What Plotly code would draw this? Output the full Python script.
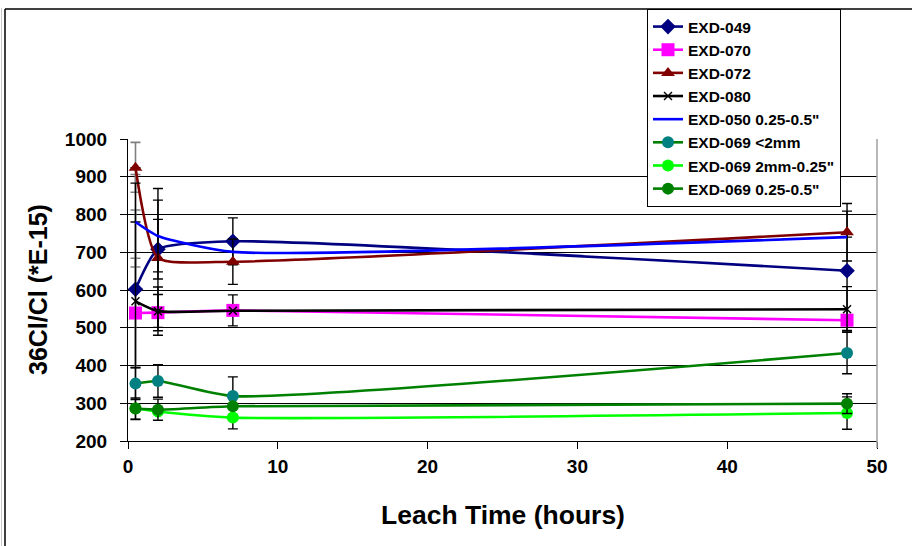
import plotly.graph_objects as go

hours = [0.5, 2, 7, 48]

exd049 = [602, 708, 729, 651]
exd070 = [539, 540, 546, 520]
exd072 = [924, 685, 675, 753]
exd080 = [570, 544, 545, 549]
exd050 = [780, 743, 701, 740]
exd069_lt2 = [352, 359, 319, 433]
exd069_2mm = [286, 278, 262, 274]
exd069_q = [286, 283, 292, 299]

# error bars (plus, minus); None = no bar
err049_p = [210, 79, 62, 158]
err049_m = [206, 79, 62, 158]
err070 = [145, 48, 41, None]
err072_p = [67, 184, 60, 76]
err072_m = [65, 184, 60, 76]
err080 = [313, 64, None, 60]
err050_p = [126, 95, None, None]
err050_m = [119, 95, None, None]
err069_lt2 = [42, 43, 51, 55]
err069_2mm = [None, None, 30, 43]
err069_q = [28, 28, None, 26]

names = ["EXD-049", "EXD-070", "EXD-072", "EXD-080", 'EXD-050 0.25-0.5"',
         "EXD-069 <2mm", 'EXD-069 2mm-0.25"', 'EXD-069 0.25-0.5"']

FONT = "Liberation Sans, Arial, sans-serif"
SMOOTH = 0.55

fig = go.Figure()

# grey error bars at the first time point (drawn beneath everything)
first_vals = [exd049[0], exd070[0], exd072[0], exd050[0]]
first_p = [err049_p[0], err070[0], err072_p[0], err050_p[0]]
first_m = [err049_m[0], err070[0], err072_m[0], err050_m[0]]
fig.add_trace(go.Scatter(
    x=[hours[0]] * len(first_vals), y=first_vals, mode="markers",
    marker=dict(size=1, opacity=0), showlegend=False, hoverinfo="skip",
    error_y=dict(type="data", array=first_p, arrayminus=first_m, symmetric=False,
                 color="#808080", thickness=1.6, width=5)))


def blank_first(arr):
    return [None] + list(arr[1:])


def add(name, y, line_color, marker, ep, em):
    fig.add_trace(go.Scatter(
        x=hours, y=y, name=name, mode="lines+markers" if marker else "lines",
        line=dict(color=line_color, width=2.6, shape="spline", smoothing=SMOOTH),
        marker=marker,
        error_y=dict(type="data", array=ep, arrayminus=em, symmetric=False,
                     color="#000000", thickness=1.4, width=5)))


add(names[0], exd049, "#000080", dict(symbol="diamond", size=12, color="#000080"),
    blank_first(err049_p), blank_first(err049_m))
add(names[1], exd070, "#FF00FF", dict(symbol="square", size=13, color="#FF00FF"),
    blank_first(err070), blank_first(err070))
add(names[2], exd072, "#800000", dict(symbol="triangle-up", size=12, color="#800000"),
    blank_first(err072_p), blank_first(err072_m))
add(names[3], exd080, "#000000",
    dict(symbol="x-thin", size=8, color="#000000", line=dict(width=1.4, color="#000000")),
    err080, err080)
add(names[4], exd050, "#0000FF", None, blank_first(err050_p), blank_first(err050_m))
add(names[5], exd069_lt2, "#008000", dict(symbol="circle", size=12, color="#008080"),
    err069_lt2, err069_lt2)
add(names[6], exd069_2mm, "#00FF00", dict(symbol="circle", size=12, color="#00FF00"),
    err069_2mm, err069_2mm)
add(names[7], exd069_q, "#008000", dict(symbol="circle", size=12, color="#008000"),
    err069_q, err069_q)

L, R, T, B = 128, 35, 139, 105
W, H = 912, 546
pw, ph = W - L - R, H - T - B


def px_x(p):
    return (p - L) / pw


def px_y(p):
    return (H - B - p) / ph


fig.update_layout(
    width=W, height=H,
    margin=dict(l=L, r=R, t=T, b=B, autoexpand=False),
    paper_bgcolor="white", plot_bgcolor="white",
    font=dict(family=FONT, color="#000000"),
    showlegend=True,
    legend=dict(
        x=px_x(647), y=px_y(9), xanchor="left", yanchor="top",
        bgcolor="white", bordercolor="#000000", borderwidth=1,
        font=dict(family=FONT, size=15.5, weight="bold", color="#000000"),
        tracegroupgap=0, itemwidth=30),
    xaxis=dict(
        range=[0, 50], tickvals=[0, 10, 20, 30, 40, 50],
        showgrid=False, zeroline=False,
        showline=True, linecolor="#000000", linewidth=1.2,
        ticks="outside", ticklen=7, tickcolor="#000000", tickwidth=1.2,
        ticklabelstandoff=1,
        tickfont=dict(family=FONT, size=19, weight="bold", color="#000000"),
        automargin=False),
    yaxis=dict(
        range=[200, 1000], tickvals=[200, 300, 400, 500, 600, 700, 800, 900, 1000],
        showgrid=True, gridcolor="#000000", gridwidth=1,
        zeroline=False,
        showline=True, linecolor="#000000", linewidth=1.2,
        ticks="outside", ticklen=7, tickcolor="#000000", tickwidth=1.2,
        ticklabelstandoff=9,
        tickfont=dict(family=FONT, size=19, weight="bold", color="#000000"),
        automargin=False),
    annotations=[
        dict(text="Leach Time (hours)", xref="paper", yref="paper",
             x=0.5, y=px_y(515), xanchor="center", yanchor="middle", showarrow=False,
             font=dict(family=FONT, size=26.5, weight="bold", color="#000000")),
        dict(text="36Cl/Cl (*E-15)", xref="paper", yref="paper",
             x=px_x(38), y=0.5, xanchor="center", yanchor="middle", showarrow=False,
             textangle=-90,
             font=dict(family=FONT, size=25, weight="bold", color="#000000")),
    ],
    shapes=[
        # plot-area right border (grey)
        dict(type="line", xref="paper", yref="paper", x0=1, x1=1, y0=px_y(448), y1=1,
             line=dict(color="#A0A0A0", width=1.5)),
        # outer chart frame (left and top)
        dict(type="line", xref="paper", yref="paper", x0=px_x(5), x1=px_x(5),
             y0=px_y(560), y1=px_y(9), line=dict(color="#000000", width=1.5)),
        dict(type="line", xref="paper", yref="paper", x0=px_x(5), x1=px_x(930),
             y0=px_y(9), y1=px_y(9), line=dict(color="#000000", width=1.5)),
        dict(type="line", xref="paper", yref="paper", x0=px_x(1.5), x1=px_x(1.5),
             y0=px_y(560), y1=px_y(8), line=dict(color="#C8C8C8", width=1)),
    ],
)

fig.write_html("out.html")
